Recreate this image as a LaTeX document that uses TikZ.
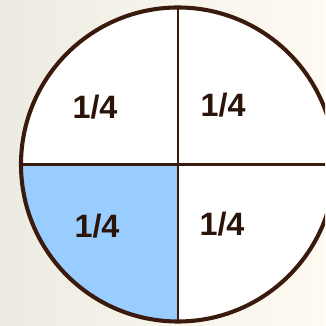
\documentclass[tikz,border=0pt]{standalone}
\usepackage{fontspec}
\setmainfont{Liberation Sans}
\definecolor{rim}{HTML}{3A1A0C}
\definecolor{ink}{HTML}{2A140A}
\definecolor{part}{HTML}{99CCFF}
\definecolor{bgleft}{HTML}{ECEBE2}
\definecolor{bgright}{HTML}{FFFBF2}
\tikzset{
	frac/.style={
		font={\fontsize{23}{23}\selectfont\bfseries}, text=ink, inner sep=0pt
	},
	rimline/.style={draw=rim, line width=2.9pt},
	cutline/.style={draw=rim, line width=2.1pt},
}
\begin{document}
\begin{tikzpicture}[x=0.025cm, y=0.025cm]
\useasboundingbox (0,0) rectangle (325,326);
\shade[left color=bgleft, right color=bgright] (0,0) rectangle (325,326);
\begin{scope}
\clip (0,0) rectangle (325,326);
\coordinate (c) at (178,161.5);
\fill[white] (c) circle (157);
\fill[part] (c) -- (21,161.5) arc (180:270:157) -- cycle;
\coordinate (top) at (178,318.5);
\coordinate (bot) at (178,4.5);
\coordinate (lft) at (21,161.5);
\coordinate (rgt) at (335,161.5);
\draw[cutline] (top) -- (bot);
\draw[cutline] (lft) -- (rgt);
\draw[rimline] (c) circle (157);
\end{scope}
\node[frac] (ul) at (95,219) {1/4};
\node[frac] (ur) at (223,221) {1/4};
\node[frac] (ll) at (97,100) {1/4};
\node[frac] (lr) at (222,102) {1/4};
\end{tikzpicture}
\end{document}
